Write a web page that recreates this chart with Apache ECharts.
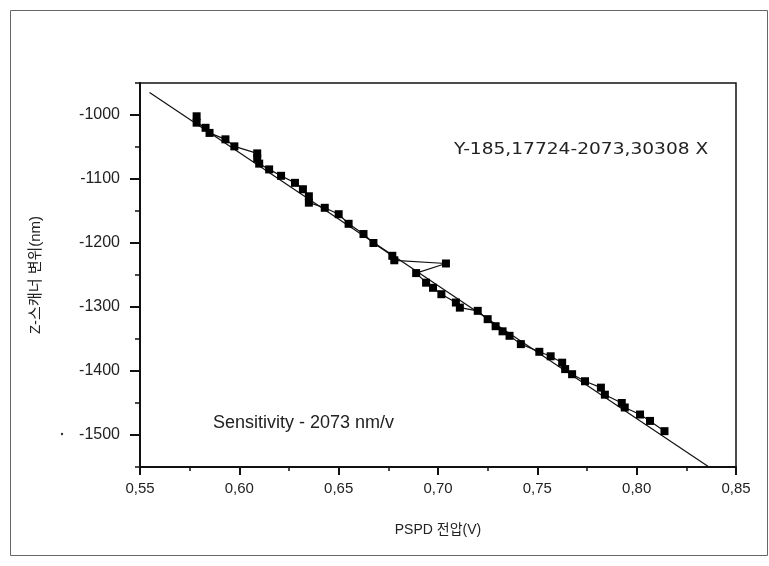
<!DOCTYPE html>
<html>
<head>
<meta charset="utf-8">
<script src="https://cdn.jsdelivr.net/npm/echarts@6/dist/echarts.min.js"></script>
<style>html,body{margin:0;padding:0;background:#fff}#c{width:769px;height:566px}</style>
</head>
<body>
<div id="c"></div>
<script>
// Measured points: PSPD voltage (V) and Z-scanner displacement (nm)
const pspdV = [0.5785,0.5785,0.583,0.585,0.593,0.5975,0.609,0.609,0.610,0.615,0.621,0.628,0.632,0.635,0.635,0.643,0.650,0.655,0.6625,0.6675,0.677,0.678,0.704,0.689,0.694,0.6975,0.7017,0.709,0.711,0.720,0.725,0.729,0.7325,0.736,0.7417,0.751,0.7567,0.7625,0.764,0.7675,0.774,0.782,0.784,0.7925,0.794,0.8017,0.8067,0.814];
const zDisp = [-1002,-1012,-1020,-1028,-1038,-1049,-1060,-1068,-1076,-1085,-1095,-1106,-1116,-1127,-1137,-1145,-1155,-1170,-1186,-1200,-1220,-1227,-1232,-1247,-1262,-1270,-1280,-1293,-1301,-1306,-1319,-1330,-1338,-1345,-1358,-1370,-1377,-1387,-1397,-1405,-1416,-1426,-1437,-1450,-1457,-1468,-1478,-1494];
// Linear fit line endpoints
const fitX = [0.5548, 0.8364];
const fitY = [-965, -1550];
// Axis ticks
const xTicks = [0.55,0.60,0.65,0.70,0.75,0.80,0.85];
const yMajor = [-1500,-1400,-1300,-1200,-1100,-1000];
const yMinor = [-1550,-1450,-1350,-1250,-1150,-1050,-950];
const fitText = 'Y-185,17724-2073,30308 X';
const sensText = 'Sensitivity - 2073 nm/v';

const FONT = '"Liberation Sans", "Noto Sans CJK KR", sans-serif';
const chart = echarts.init(document.getElementById('c'));
const pts = pspdV.map((x,i)=>[x, zDisp[i]]);
const fit = fitX.map((x,i)=>[x, fitY[i]]);
chart.setOption({
  animation:false,
  backgroundColor:'#fff',
  grid:{left:140, right:33, top:83, bottom:99, show:true, borderColor:'#111', borderWidth:1.5, backgroundColor:'transparent'},
  xAxis:{type:'value', min:0.55, max:0.85, interval:0.05,
    name:'PSPD 전압(V)', nameLocation:'middle', nameGap:56,
    nameTextStyle:{fontFamily:FONT, fontSize:14, color:'#222'},
    axisLine:{show:true, onZero:false, lineStyle:{color:'#111', width:2}},
    axisTick:{show:true, inside:false, length:8, lineStyle:{color:'#111', width:2}},
    minorTick:{show:true, splitNumber:2, length:4, lineStyle:{color:'#111', width:1.5}},
    splitLine:{show:false},
    axisLabel:{margin:14, fontFamily:FONT, fontSize:15, color:'#222',
      formatter:v=>v.toFixed(2).replace('.',',')}
  },
  yAxis:[{type:'value', min:-1550, max:-950,
    name:'Z-스캐너 변위(nm)', nameLocation:'middle', nameGap:97, nameRotate:90,
    nameTextStyle:{fontFamily:FONT, fontSize:15, color:'#222'},
    axisLine:{show:true, onZero:false, lineStyle:{color:'#111', width:2}},
    axisTick:{show:true, length:10, customValues:yMajor, lineStyle:{color:'#111', width:2}},
    axisLabel:{margin:20, customValues:yMajor, fontFamily:FONT, fontSize:16, color:'#222',
      formatter:v=>String(v)},
    splitLine:{show:false}
  },{type:'value', min:-1550, max:-950, position:'left', offset:0,
    axisLine:{show:false},
    axisTick:{show:true, length:5, customValues:yMinor, lineStyle:{color:'#111', width:1.5}},
    axisLabel:{show:false}, splitLine:{show:false}
  }],
  series:[
    {type:'line', data:fit, symbol:'none', lineStyle:{color:'#111', width:1.2}, silent:true, z:2},
    {type:'line', data:pts, symbol:'rect', symbolSize:8, itemStyle:{color:'#000'},
      lineStyle:{color:'#111', width:1.2}, z:3}
  ],
  graphic:[
    {type:'rect', left:8, top:8, shape:{width:757, height:545}, style:{fill:'none', stroke:'#666', lineWidth:1}, silent:true},
    {type:'text', x:454, y:143, scaleX:1.24, style:{text:fitText, font:'15px "DejaVu Sans", sans-serif', fill:'#222'}},
    {type:'text', x:213, y:414, style:{text:sensText, font:'18px '+FONT, fill:'#222'}},
    {type:'circle', shape:{cx:62, cy:434, r:1.2}, style:{fill:'#333'}}
  ]
});
</script>
</body>
</html>
